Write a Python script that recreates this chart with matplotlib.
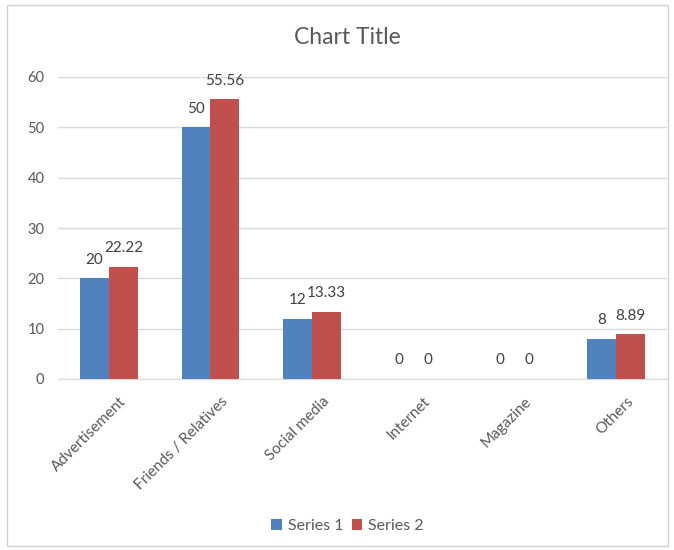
import matplotlib
matplotlib.use("Agg")
import matplotlib.pyplot as plt
from matplotlib.patches import Rectangle
import matplotlib.transforms as mtransforms
import numpy as np

categories = ["Advertisement", "Friends / Relatives", "Social media", "Internet", "Magazine", "Others"]
series1 = [20, 50, 12, 0, 0, 8]
series2 = [22.22, 55.56, 13.33, 0, 0, 8.89]
series_names = ["Series 1", "Series 2"]
yticks = [0, 10, 20, 30, 40, 50, 60]

plt.rcParams['font.family'] = ['Lato', 'DejaVu Sans']
grey = '#595959'

fig = plt.figure(figsize=(6.74, 5.5), dpi=100)
fig.patches.append(Rectangle((7/674, 1-546/550), 661/674, 541/550, transform=fig.transFigure,
                             fill=False, edgecolor='#D0D0D0', linewidth=1))
ax = fig.add_axes([58.3/674, (550-379)/550, 608.4/674, 302/550])

x = np.arange(len(categories))
w = 0.285
b1 = ax.bar(x - w/2, series1, w, color='#4F81BD', label=series_names[0], zorder=3)
b2 = ax.bar(x + w/2, series2, w, color='#C0504D', label=series_names[1], zorder=3)

for bars, vals in ((b1, series1), (b2, series2)):
    for r, v in zip(bars, vals):
        ax.annotate(f"{v:g}", (r.get_x() + r.get_width()/2, v), xytext=(0, 13.5),
                    textcoords='offset points', ha='center', va='center',
                    fontsize=11, color='#404040')

ax.set_xlim(-0.5, len(categories) - 0.5)
ax.set_ylim(0, 60)
ax.set_yticks(yticks)
ax.yaxis.grid(True, color='#D9D9D9', linewidth=1, zorder=0)
for s in ['top', 'right', 'left']:
    ax.spines[s].set_visible(False)
ax.spines['bottom'].set_color('#D9D9D9')
ax.tick_params(axis='both', length=0, colors=grey)
ax.tick_params(axis='y', pad=10, labelsize=10.5)
ax.set_xticks(x)
ax.set_xticklabels(categories, rotation=45, ha='right', rotation_mode='anchor', fontsize=11)
ax.tick_params(axis='x', pad=11)
offset = mtransforms.ScaledTranslation(10/100, 0, fig.dpi_scale_trans)
for lbl in ax.get_xticklabels():
    lbl.set_transform(lbl.get_transform() + offset)

fig.text(0.516, 1 - 37/550, "Chart Title", ha='center', va='center', fontsize=16.5, color=grey)

leg = fig.legend(handles=[b1, b2], loc='center', bbox_to_anchor=(0.516, 1 - 526/550), ncol=2,
                 frameon=False, fontsize=11.5, handlelength=0.65, handleheight=0.65,
                 handletextpad=0.4, columnspacing=0.5)
for t in leg.get_texts():
    t.set_color(grey)

fig.savefig("out.png", dpi=100)
